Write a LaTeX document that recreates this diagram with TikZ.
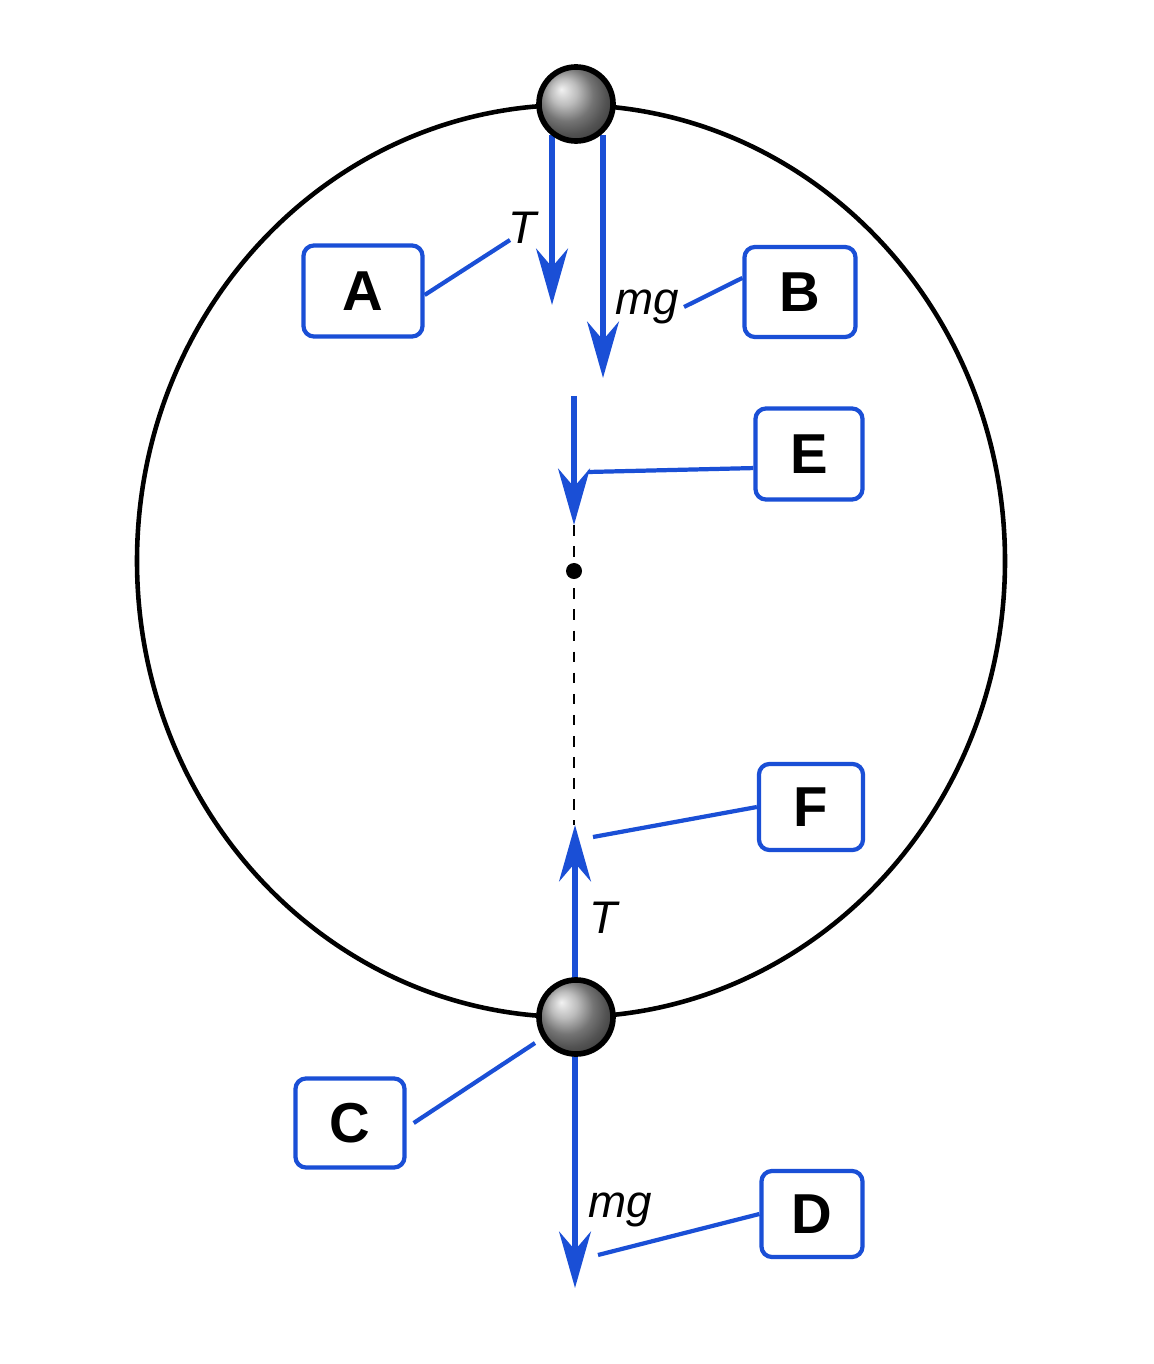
\documentclass[tikz,border=0pt]{standalone}
\usepackage{fontspec}
\setmainfont{Liberation Sans}
\usetikzlibrary{arrows.meta}
\definecolor{fblue}{HTML}{1A4FD6}
\begin{document}
\begin{tikzpicture}[x=0.01cm,y=-0.01cm,
  force/.style={fblue,line width=1.8pt,-{Stealth[length=16pt,width=9pt]}},
  lead/.style={fblue,line width=1.2pt},
  lbox/.style={draw=fblue,line width=1.2pt,rounded corners=3pt,font=\fontsize{16}{18}\selectfont\bfseries,inner sep=0pt},
  flab/.style={font=\fontsize{13}{15}\selectfont\itshape},
  ballst/.style={circle,draw=black,line width=1.6pt,ball color=gray!70,minimum size=74\pgflinewidth*0+0.74cm,inner sep=0pt}]
\useasboundingbox (0,0) rectangle (1153,1364);
\fill[white] (0,0) rectangle (1153,1364);
\draw[line width=1.3pt] (571,561) ellipse [x radius=434, y radius=456];
\draw[dashed,line width=0.8pt] (574,525) -- (574,825);
\node[circle,fill=black,inner sep=0pt,minimum size=0.16cm] (O) at (574,571) {};
% top forces
\coordinate (t1) at (552,135); \coordinate (t2) at (552,305);
\coordinate (m1) at (603,135); \coordinate (m2) at (603,378);
\draw[force] (t1) -- (t2);
\draw[force] (m1) -- (m2);
\coordinate (e1) at (574,396); \coordinate (e2) at (574,525);
\draw[force] (e1) -- (e2);
\coordinate (f1) at (575,980); \coordinate (f2) at (575,825);
\draw[force] (f1) -- (f2);
\coordinate (d1) at (575,1050); \coordinate (d2) at (575,1288);
\draw[force] (d1) -- (d2);
\node[ballst] (top) at (576,104) {};
\node[ballst] (bot) at (576,1017) {};
% labels
\node[flab] (T1) at (522,228) {T};
\node[flab] (mg1) at (647,307) {mg};
\node[flab] (T2) at (603,918) {T};
\node[flab] (mg2) at (620,1210) {mg};
% boxes
\node[lbox,minimum width=1.19cm,minimum height=0.91cm] (A) at (363,291) {A};
\node[lbox,minimum width=1.11cm,minimum height=0.90cm] (B) at (800,292) {B};
\node[lbox,minimum width=1.07cm,minimum height=0.91cm] (E) at (809,454) {E};
\node[lbox,minimum width=1.04cm,minimum height=0.86cm] (F) at (811,807) {F};
\node[lbox,minimum width=1.09cm,minimum height=0.89cm] (C) at (350,1123) {C};
\node[lbox,minimum width=1.01cm,minimum height=0.86cm] (D) at (812,1214) {D};
% leaders
\coordinate (a1) at (510,240); \draw[lead] (A.east) ++(0,4) -- (a1);
\coordinate (b1) at (684,307); \draw[lead] (b1) -- ([yshift=4]B.west);
\coordinate (ee) at (588,472); \draw[lead] (ee) -- ([yshift=-4]E.west);
\coordinate (ff) at (593,837); \draw[lead] (ff) -- (F.west);
\coordinate (cc) at (535,1043); \draw[lead] ([xshift=2]C.east) -- (cc);
\coordinate (dd) at (598,1255); \draw[lead] (dd) -- (D.west);
\end{tikzpicture}
\end{document}
